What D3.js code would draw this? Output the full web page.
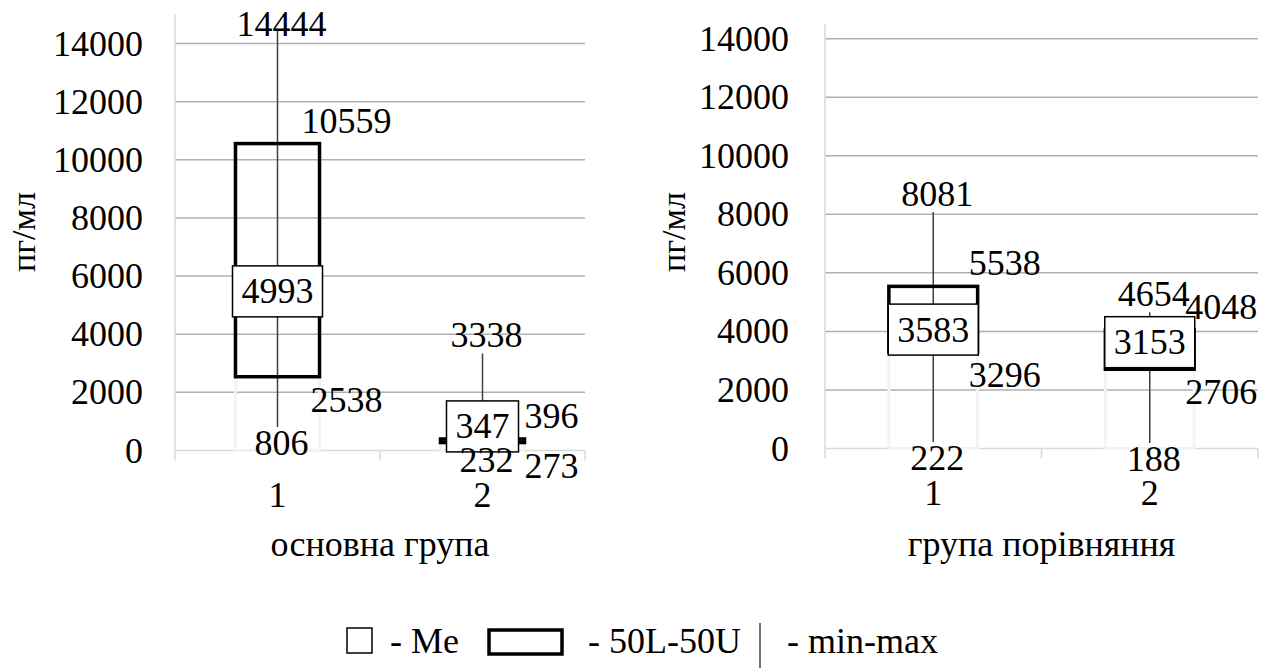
<!DOCTYPE html>
<html>
<head>
<meta charset="utf-8">
<script src="https://cdn.jsdelivr.net/npm/d3@7"></script>
<style>
    body { margin: 0; background: #fff; }
    svg { display: block; }
    text { font-family: "Liberation Serif", "Times New Roman", serif; fill: #000; }
</style>
</head>
<body>
<div class="vis-chart"></div>
<script>
const categories = ["1", "2"];
const tickValues = [0, 2000, 4000, 6000, 8000, 10000, 12000, 14000];

// основна група
const mainMin = [806, 232];
const mainQ1 = [2538, 273];
const mainMe = [4993, 347];
const mainQ3 = [10559, 396];
const mainMax = [14444, 3338];

// група порівняння
const compMin = [222, 188];
const compQ1 = [3296, 2706];
const compMe = [3583, 3153];
const compQ3 = [5538, 4048];
const compMax = [8081, 4654];

const FONT = 36;
const SERIF = '"Liberation Serif", "Times New Roman", serif';

const visChart = d3.select('.vis-chart').append('svg')
    .attr('width', 1288)
    .attr('height', 669)
    .style('background-color', '#ffffff');

function makeRows(mins, q1s, mes, q3s, maxs) {
    return categories.map((c, i) => ({
        cat: c, min: mins[i], q1: q1s[i], me: mes[i], q3: q3s[i], max: maxs[i]
    }));
}

/******** одна панель ********/
function drawPanel(p, rows) {
    const yScale = d3.scaleLinear().domain([0, p.yMax]).range([p.bottom, p.top]);
    const xScale = d3.scaleBand().domain(categories).range([p.left, p.right]);
    const bw = xScale.bandwidth();
    const boxW = bw * 0.41;
    const cx = d => xScale(d.cat) + bw / 2;

    const g = visChart.append('g');

    // gridlines
    g.selectAll('.grid')
        .data(tickValues.filter(v => v > 0))
        .enter().append('line')
        .attr('x1', p.left).attr('x2', p.right)
        .attr('y1', d => yScale(d)).attr('y2', d => yScale(d))
        .attr('stroke', '#b0b0b0')
        .attr('stroke-width', 1.5);

    // y axis labels
    const yAxis = d3.axisLeft(yScale)
        .tickValues(tickValues)
        .tickFormat(d3.format('d'))
        .tickSize(0)
        .tickPadding(p.tickPad);
    const ya = g.append('g')
        .attr('transform', 'translate(' + p.left + ',0)')
        .call(yAxis);
    ya.attr('font-family', null);
    ya.select('.domain').remove();
    ya.selectAll('text')
        .style('font-family', SERIF)
        .style('font-size', FONT + 'px')
        .attr('fill', '#000');

    // axis lines
    g.append('line')
        .attr('x1', p.left).attr('x2', p.left)
        .attr('y1', p.top).attr('y2', yScale(0))
        .attr('stroke', '#d9d9d9').attr('stroke-width', 1.5);
    g.append('line')
        .attr('x1', p.left).attr('x2', p.right)
        .attr('y1', yScale(0)).attr('y2', yScale(0))
        .attr('stroke', '#d9d9d9').attr('stroke-width', 1.5);
    const bounds = categories.map(c => xScale(c)).concat([p.right]);
    g.selectAll('.xtick')
        .data(bounds)
        .enter().append('line')
        .attr('x1', d => d).attr('x2', d => d)
        .attr('y1', yScale(0)).attr('y2', yScale(0) + 10)
        .attr('stroke', '#d9d9d9').attr('stroke-width', 1.5);

    // category labels
    const xAxis = d3.axisBottom(xScale).tickSize(0).tickPadding(p.catPad);
    const xa = g.append('g')
        .attr('transform', 'translate(0,' + yScale(0) + ')')
        .call(xAxis);
    xa.attr('font-family', null);
    xa.select('.domain').remove();
    xa.selectAll('text')
        .style('font-family', SERIF)
        .style('font-size', FONT + 'px')
        .attr('fill', '#000');

    // hidden base columns (white borders)
    g.selectAll('.base')
        .data(rows)
        .enter().append('rect')
        .attr('x', d => cx(d) - boxW / 2)
        .attr('width', boxW)
        .attr('y', d => yScale(d.q1))
        .attr('height', d => yScale(0) - yScale(d.q1))
        .attr('fill', 'none')
        .attr('stroke', '#f3f3f3')
        .attr('stroke-width', 3);

    // whiskers
    g.selectAll('.whisker')
        .data(rows)
        .enter().append('line')
        .attr('x1', cx).attr('x2', cx)
        .attr('y1', d => yScale(d.min)).attr('y2', d => yScale(d.max))
        .attr('stroke', '#404040')
        .attr('stroke-width', 1.5);

    // 50L-50U boxes
    g.selectAll('.box')
        .data(rows)
        .enter().append('rect')
        .attr('x', d => cx(d) - boxW / 2)
        .attr('width', boxW)
        .attr('y', d => yScale(d.q3))
        .attr('height', d => yScale(d.q1) - yScale(d.q3))
        .attr('fill', 'none')
        .attr('stroke', '#000')
        .attr('stroke-width', 3.5);

    // median label boxes
    rows.forEach(d => {
        const cy = yScale(d.me) - 14;
        const mg = g.append('g');
        const r = mg.append('rect');
        const t = mg.append('text')
            .attr('x', cx(d))
            .attr('y', cy + 12)
            .attr('text-anchor', 'middle')
            .style('font-size', FONT + 'px')
            .text(d.me);
        const w = t.node().getComputedTextLength() + 18;
        r.attr('x', cx(d) - w / 2).attr('width', w)
            .attr('y', cy - 25.5).attr('height', 51)
            .attr('fill', '#fff')
            .attr('stroke', '#000')
            .attr('stroke-width', 1.5);
    });

    // value labels
    const labels = [];
    rows.forEach(d => {
        labels.push({ x: cx(d) + 4, y: Math.max(yScale(d.max) - 18, 24), v: d.max });
        labels.push({ x: cx(d) + 4, y: yScale(d.min) + 16, v: d.min });
        labels.push({ x: cx(d) + boxW / 2 + 27, y: yScale(d.q3) - 23, v: d.q3 });
        labels.push({ x: cx(d) + boxW / 2 + 27, y: yScale(d.q1) + 23, v: d.q1 });
    });
    g.selectAll('.vlabel')
        .data(labels)
        .enter().append('text')
        .attr('x', d => d.x)
        .attr('y', d => d.y + 12)
        .attr('text-anchor', 'middle')
        .style('font-size', FONT + 'px')
        .text(d => d.v);

    // axis titles
    g.append('text')
        .attr('text-anchor', 'middle')
        .attr('x', (p.left + p.right) / 2)
        .attr('y', 556)
        .style('font-size', FONT + 'px')
        .text(p.xTitle);

    g.append('text')
        .attr('text-anchor', 'middle')
        .attr('transform', 'translate(' + p.yTitleX + ',232)rotate(-90)')
        .style('font-size', '34px')
        .text('пг/мл');
}

drawPanel({
    left: 175, right: 585, top: 14.5, bottom: 450.5, yMax: 15000,
    tickPad: 32, catPad: 31, yTitleX: 35, xTitle: 'основна група'
}, makeRows(mainMin, mainQ1, mainMe, mainQ3, mainMax));

drawPanel({
    left: 825, right: 1258, top: 24, bottom: 448.5, yMax: 14500,
    tickPad: 36, catPad: 31, yTitleX: 685, xTitle: 'група порівняння'
}, makeRows(compMin, compQ1, compMe, compQ3, compMax));

/******** легенда ********/
const legend = visChart.append('g');
legend.append('rect')
    .attr('x', 347).attr('y', 628).attr('width', 25).attr('height', 25)
    .attr('fill', '#fff').attr('stroke', '#000').attr('stroke-width', 1.5);
legend.append('text')
    .attr('x', 390).attr('y', 653)
    .style('font-size', FONT + 'px')
    .text('- Me');
legend.append('rect')
    .attr('x', 489).attr('y', 630).attr('width', 73).attr('height', 24)
    .attr('fill', 'none').attr('stroke', '#000').attr('stroke-width', 3.5);
legend.append('text')
    .attr('x', 588).attr('y', 653)
    .style('font-size', FONT + 'px')
    .text('- 50L-50U');
legend.append('line')
    .attr('x1', 760).attr('x2', 760).attr('y1', 623).attr('y2', 668)
    .attr('stroke', '#404040').attr('stroke-width', 1.5);
legend.append('text')
    .attr('x', 787).attr('y', 653)
    .style('font-size', FONT + 'px')
    .text('- min-max');
</script>
</body>
</html>
